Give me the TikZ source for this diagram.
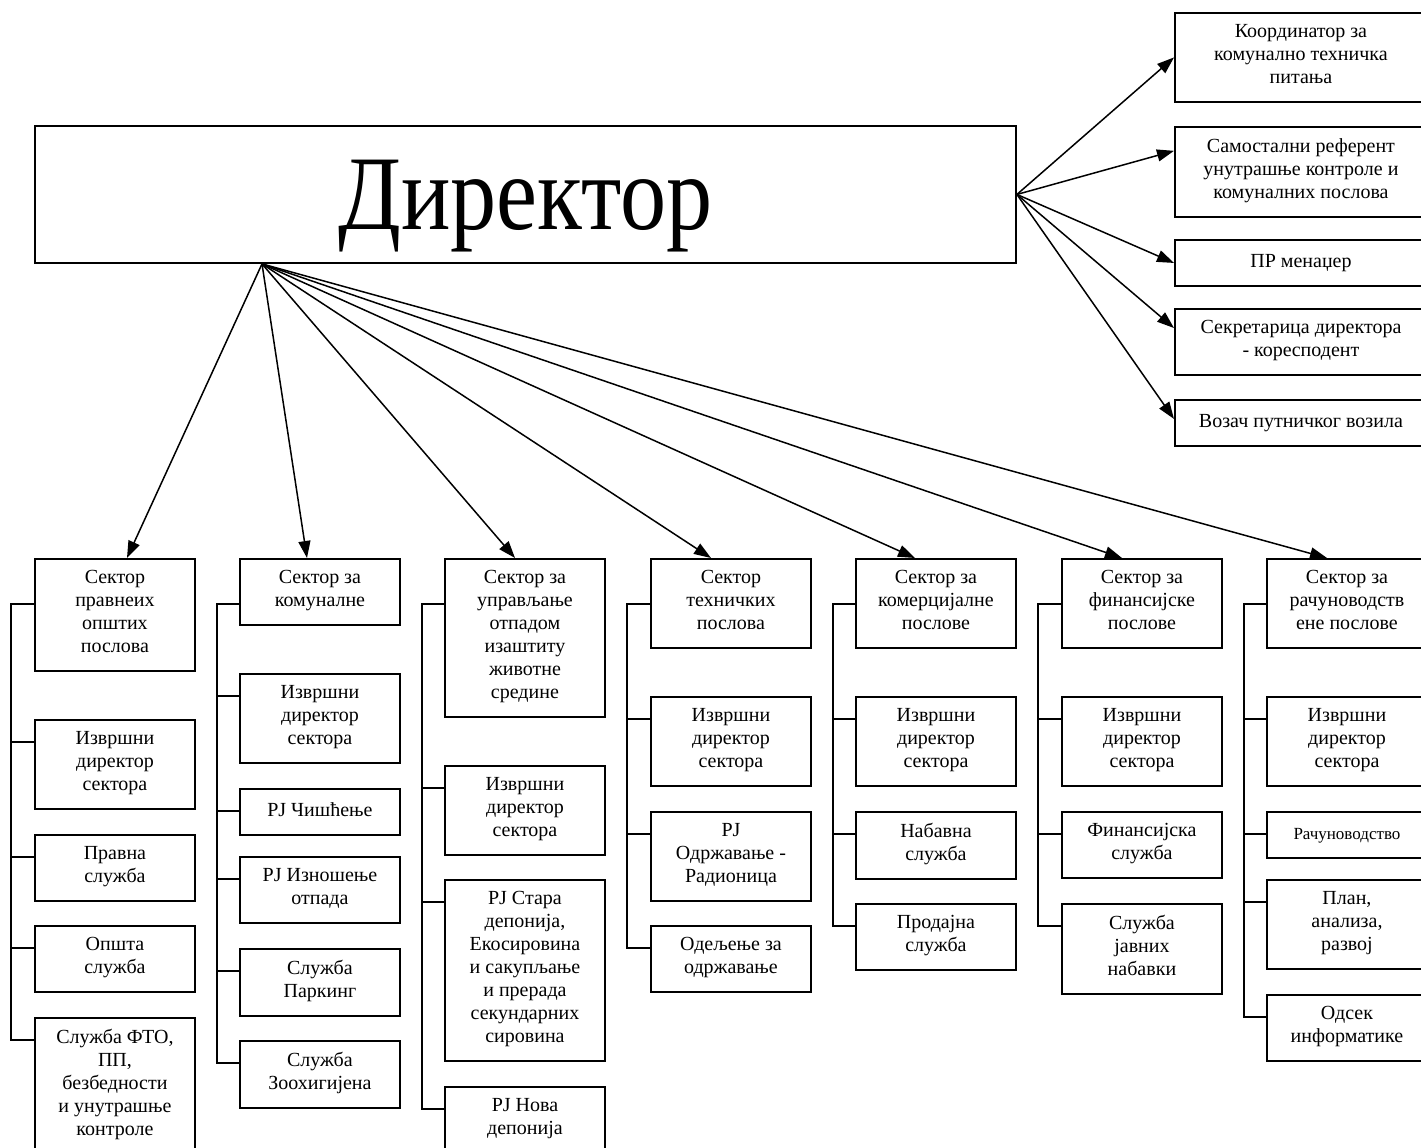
\documentclass[tikz,border=0pt]{standalone}
\usepackage{fontspec}
\setmainfont{Liberation Serif}
\newfontfamily\dirfont[FakeStretch=0.87]{Liberation Serif}
\usetikzlibrary{arrows.meta}

\tikzset{
  box/.style={shape=rectangle, draw=black, line width=1.9pt, anchor=north west, align=center,
    minimum width=160pt, inner xsep=2pt, inner ysep=11.5pt, font=\fontsize{20}{23}\selectfont,
    execute at begin node=\strut, execute at end node=\strut},
  sidebox/.style={box, minimum width=252pt},
  arr/.style={draw=black, line width=1.5pt, -{Triangle[length=17pt,width=12pt]}},
  link/.style={draw=black, line width=1.9pt},
}

\begin{document}
\begin{tikzpicture}[x=1pt,y=-1pt]

     \useasboundingbox (0,0) rectangle (1421,1148);

     \node[shape=rectangle, draw=black, line width=1.9pt, anchor=north west, minimum width=981pt, minimum height=137pt, inner sep=0pt, text height=70pt, text depth=0pt, font=\dirfont\fontsize{106}{110}\selectfont] (dir) at (34,125){Директор};
     \coordinate (hub) at ([xshift=228pt]dir.south west);

     \node[sidebox] (k1) at (1174,12){Координатор за\\комунално техничка\\питања};
     \node[sidebox] (k2) at (1174,126){Самостални референт\\унутрашње контроле и\\комуналних послова};
     \node[sidebox] (k3) at (1174,239){ПР менаџер};
     \node[sidebox] (k4) at (1174,308){Секретарица директора\\- кореcподент};
     \node[sidebox] (k5) at (1174,399){Возач путничког возила};


     \node[box] (s1) at (34,558){Сектор\\правнеих\\општих\\послова};
     \node[box] (a1) at (34,719){Извршни\\директор\\сектора};
     \node[box] (a2) at (34,834){Правна\\служба};
     \node[box] (a3) at (34,925){Општа\\служба};
     \node[box] (a4) at (34,1017){Служба ФТО,\\ПП,\\безбедности\\и унутрашње\\контроле};

     \node[box] (s2) at (239,558){Сектор за\\комуналне};
     \node[box] (b1) at (239,673){Извршни\\директор\\сектора};
     \node[box] (b2) at (239,788){РЈ Чишћење};
     \node[box] (b3) at (239,856){РЈ Изношење\\отпада};
     \node[box] (b4) at (239,948){Служба\\Паркинг};
     \node[box] (b5) at (239,1040){Служба\\Зоохигијена};

     \node[box] (s3) at (444,558){Сектор за\\управљање\\отпадом\\изаштиту\\животне\\средине};
     \node[box] (c1) at (444,765){Извршни\\директор\\сектора};
     \node[box] (c2) at (444,879){РЈ Стара\\депонија,\\Екосировина\\и сакупљање\\и прерада\\секундарних\\сировина};
     \node[box] (c3) at (444,1086){РЈ Нова\\депонија};

     \node[box] (s4) at (650,558){Сектор\\техничких\\послова};
     \node[box] (d1) at (650,696){Извршни\\директор\\сектора};
     \node[box] (d2) at (650,811){РЈ\\Одржавање -\\Радионица};
     \node[box] (d3) at (650,925){Одељење за\\одржавање};

     \node[box] (s5) at (855,558){Сектор за\\комерцијалне\\послове};
     \node[box] (e1) at (855,696){Извршни\\директор\\сектора};
     \node[box] (e2) at (855,811){Набавна\\служба};
     \node[box] (e3) at (855,903){Продајна\\служба};

     \node[box] (s6) at (1061,558){Сектор за\\финансијске\\послове};
     \node[box] (f1) at (1061,696){Извршни\\директор\\сектора};
     \node[box] (f2) at (1061,811){Финансијска\\служба};
     \node[box] (f3) at (1061,903){Служба\\јавних\\набавки};

     \node[box] (s7) at (1266,558){Сектор за\\рачуноводств\\ене послове};
     \node[box] (g1) at (1266,696){Извршни\\директор\\сектора};
     \node[box, font=\fontsize{17}{23}\selectfont] (g2) at (1266,811){Рачуноводство};
     \node[box] (g3) at (1266,879){План,\\анализа,\\развој};
     \node[box] (g4) at (1266,994){Одсек\\информатике};


     \draw [arr] (dir.east) to  (k1.west);
     \draw [arr] (dir.east) to  ([yshift=21pt]k2.west);
     \draw [arr] (dir.east) to  (k3.west);
     \draw [arr] (dir.east) to  ([yshift=14pt]k4.west);
     \draw [arr] (dir.east) to  ([yshift=4pt]k5.west);

     \draw [arr] (hub) to  ([xshift=93pt]s1.north west);
     \draw [arr] (hub) to  ([xshift=68pt]s2.north west);
     \draw [arr] (hub) to  ([xshift=71pt]s3.north west);
     \draw [arr] (hub) to  ([xshift=61pt]s4.north west);
     \draw [arr] (hub) to  ([xshift=60pt]s5.north west);
     \draw [arr] (hub) to  ([xshift=61pt]s6.north west);
     \draw [arr] (hub) to  ([xshift=61pt]s7.north west);


     \draw [link] ([yshift=-46pt]s1.north west) -- ++(-23,0) |- ([yshift=-23pt]a1.north west);
     \draw [link] ([yshift=-46pt]s1.north west) -- ++(-23,0) |- ([yshift=-23pt]a2.north west);
     \draw [link] ([yshift=-46pt]s1.north west) -- ++(-23,0) |- ([yshift=-23pt]a3.north west);
     \draw [link] ([yshift=-46pt]s1.north west) -- ++(-23,0) |- ([yshift=-23pt]a4.north west);

     \draw [link] ([yshift=-46pt]s2.north west) -- ++(-22,0) |- ([yshift=-23pt]b1.north west);
     \draw [link] ([yshift=-46pt]s2.north west) -- ++(-22,0) |- ([yshift=-23pt]b2.north west);
     \draw [link] ([yshift=-46pt]s2.north west) -- ++(-22,0) |- ([yshift=-23pt]b3.north west);
     \draw [link] ([yshift=-46pt]s2.north west) -- ++(-22,0) |- ([yshift=-23pt]b4.north west);
     \draw [link] ([yshift=-46pt]s2.north west) -- ++(-22,0) |- ([yshift=-23pt]b5.north west);

     \draw [link] ([yshift=-46pt]s3.north west) -- ++(-22,0) |- ([yshift=-23pt]c1.north west);
     \draw [link] ([yshift=-46pt]s3.north west) -- ++(-22,0) |- ([yshift=-23pt]c2.north west);
     \draw [link] ([yshift=-46pt]s3.north west) -- ++(-22,0) |- ([yshift=-23pt]c3.north west);

     \draw [link] ([yshift=-46pt]s4.north west) -- ++(-23,0) |- ([yshift=-23pt]d1.north west);
     \draw [link] ([yshift=-46pt]s4.north west) -- ++(-23,0) |- ([yshift=-23pt]d2.north west);
     \draw [link] ([yshift=-46pt]s4.north west) -- ++(-23,0) |- ([yshift=-23pt]d3.north west);

     \draw [link] ([yshift=-46pt]s5.north west) -- ++(-22,0) |- ([yshift=-23pt]e1.north west);
     \draw [link] ([yshift=-46pt]s5.north west) -- ++(-22,0) |- ([yshift=-23pt]e2.north west);
     \draw [link] ([yshift=-46pt]s5.north west) -- ++(-22,0) |- ([yshift=-23pt]e3.north west);

     \draw [link] ([yshift=-46pt]s6.north west) -- ++(-23,0) |- ([yshift=-23pt]f1.north west);
     \draw [link] ([yshift=-46pt]s6.north west) -- ++(-23,0) |- ([yshift=-23pt]f2.north west);
     \draw [link] ([yshift=-46pt]s6.north west) -- ++(-23,0) |- ([yshift=-23pt]f3.north west);

     \draw [link] ([yshift=-46pt]s7.north west) -- ++(-22,0) |- ([yshift=-23pt]g1.north west);
     \draw [link] ([yshift=-46pt]s7.north west) -- ++(-22,0) |- ([yshift=-23pt]g2.north west);
     \draw [link] ([yshift=-46pt]s7.north west) -- ++(-22,0) |- ([yshift=-23pt]g3.north west);
     \draw [link] ([yshift=-46pt]s7.north west) -- ++(-22,0) |- ([yshift=-23pt]g4.north west);

\end{tikzpicture}
\end{document}
